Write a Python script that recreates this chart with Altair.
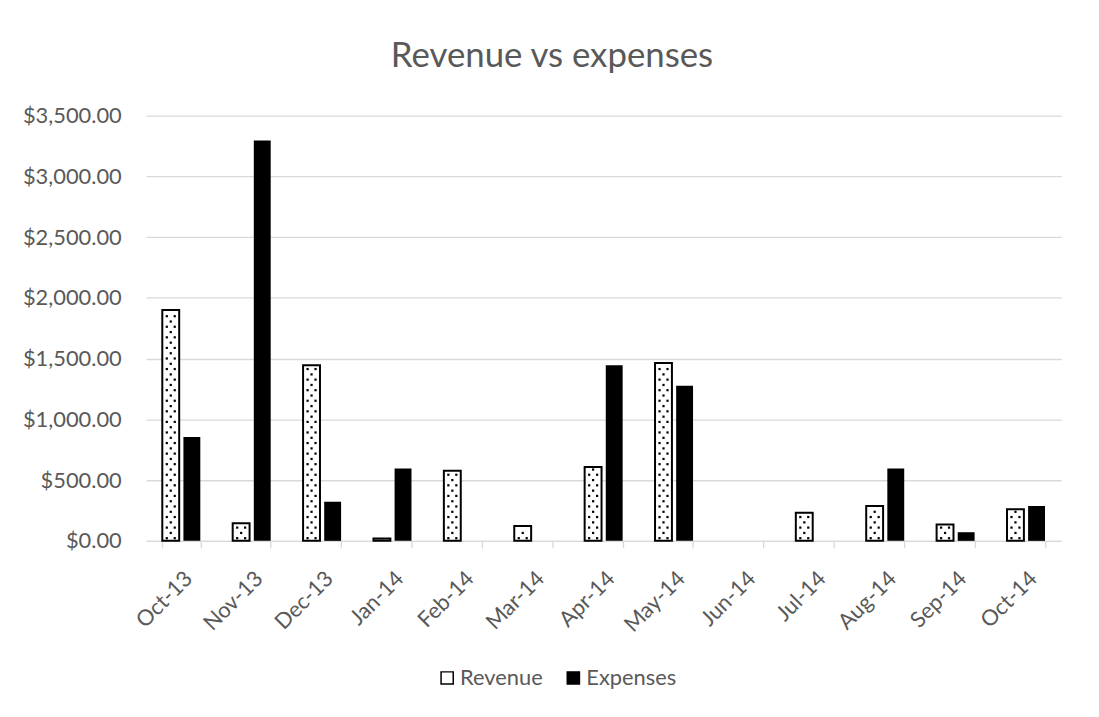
import altair as alt
import pandas as pd

months = ["Oct-13", "Nov-13", "Dec-13", "Jan-14", "Feb-14", "Mar-14", "Apr-14",
          "May-14", "Jun-14", "Jul-14", "Aug-14", "Sep-14", "Oct-14"]
revenue = [1900, 145, 1445, 20, 576, 123, 607, 1464, 0, 232, 287, 134, 260]
expenses = [855, 3295, 322, 596, 0, 0, 1445, 1276, 0, 0, 596, 71, 287]
series = ["Revenue", "Expenses"]
y_ticks = [0, 500, 1000, 1500, 2000, 2500, 3000, 3500]

rows = []
for m, r, e in zip(months, revenue, expenses):
    rows.append({"month": m, "series": "Revenue", "value": r})
    rows.append({"month": m, "series": "Expenses", "value": e})
df = pd.DataFrame(rows)

FONT = "Lato"
GRAY = "#595959"
GRID = "#d9d9d9"

x_axis = alt.Axis(title=None, labelAngle=-45, labelFontSize=22, labelColor=GRAY,
                  labelFont=FONT, domainColor=GRID, domainWidth=1.3, tickColor=GRID,
                  tickWidth=1.3, tickSize=7, tickBand="extent", labelPadding=20)
x_scale = alt.Scale(domain=months, paddingInner=0.46, paddingOuter=0.23)
x_enc = alt.X("month:N", sort=months, scale=x_scale, axis=x_axis)
xoff = alt.XOffset("series:N", sort=series,
                   scale=alt.Scale(domain=series, paddingInner=0.2))
y_axis = alt.Axis(title=None, format="$,.2f", values=y_ticks, labelFontSize=22,
                  labelColor=GRAY, labelFont=FONT, domain=False, ticks=False,
                  gridColor=GRID, gridWidth=1.3, labelPadding=25)
y_scale = alt.Scale(domain=[0, 3500])

bars = alt.Chart(df).transform_filter("datum.value > 0").mark_bar(stroke="black").encode(
    x=x_enc,
    xOffset=xoff,
    y=alt.Y("value:Q", scale=y_scale, axis=y_axis),
    color=alt.Color("series:N", sort=series,
                    scale=alt.Scale(domain=series, range=["white", "black"]),
                    legend=alt.Legend(title=None, orient="none", direction="horizontal",
                                      legendX=292, legendY=555, symbolType="square",
                                      symbolSize=150, symbolStrokeColor="black",
                                      symbolStrokeWidth=1.5, labelFontSize=22,
                                      labelFont=FONT, labelColor=GRAY, columnPadding=19,
                                      labelOffset=2)),
    strokeWidth=alt.condition("datum.series == 'Revenue'", alt.value(2), alt.value(0)),
)


def dots(start, offsets):
    layers = []
    for off in offsets:
        layers.append(
            alt.Chart(df)
            .transform_filter("datum.series == 'Revenue' && datum.value > 0")
            .transform_calculate(d=f"sequence({start}, datum.value - 15, 87)")
            .transform_flatten(["d"])
            .mark_square(size=5, color="black", opacity=1, xOffset=off)
            .encode(x=x_enc, y=alt.Y("d:Q", scale=y_scale, axis=y_axis))
        )
    return layers


# revenue sub-band centre sits about 10.6px left of the month's band centre
dot_layers = dots(22, [-14.6, -6.6]) + dots(65, [-10.6])

chart = alt.layer(bars, *dot_layers).properties(
    width=921, height=428,
    background="white",
    autosize=alt.AutoSizeParams(type="none"),
    padding={"left": 139, "top": 106, "right": 30, "bottom": 175},
    title=alt.TitleParams("Revenue vs expenses", fontSize=35, font=FONT, color=GRAY,
                          fontWeight="normal", anchor="middle", dx=-52, offset=3,
                          baseline="alphabetic"),
).configure_view(stroke=None)

chart.save("out.html", embed_options={"renderer": "svg", "actions": False})
